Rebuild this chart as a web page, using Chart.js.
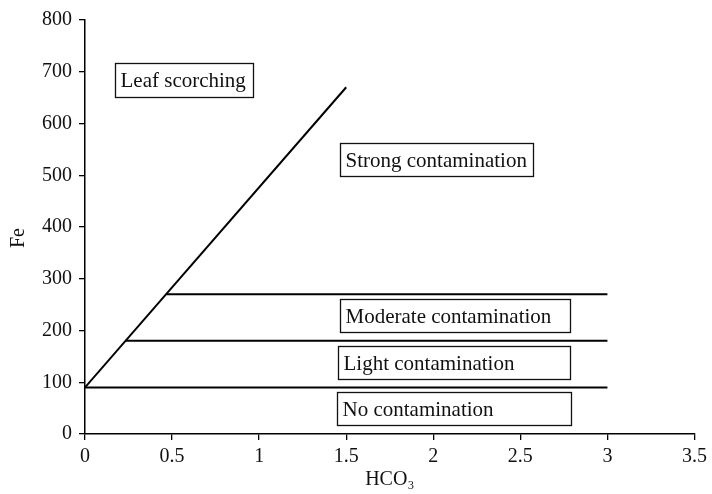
<!DOCTYPE html>
<html>
<head>
<meta charset="utf-8">
<script src="https://cdn.jsdelivr.net/npm/chart.js@4.4.1/dist/chart.umd.min.js"></script>
<style>
  html, body { margin: 0; padding: 0; background: #fff; }
  #wrap { width: 712px; height: 494px; }
</style>
</head>
<body>
<div id="wrap"><canvas id="c" width="712" height="494"></canvas></div>
<script>
// Boundary between leaf scorching and contamination (HCO3 vs Fe)
const scorchX = [0, 1.5];
const scorchY = [90, 670];

// Contamination thresholds: Fe level, HCO3 where it meets the boundary, HCO3 end
const levelFe    = [90, 180, 270];
const levelStart = [0, 0.23, 0.47];
const levelEnd   = [3, 3, 3];

// Axis tick values and their printed labels
const xTickValues = [0, 0.5, 1, 1.5, 2, 2.5, 3, 3.5];
const xTickLabels = ['0', '0.5', '1', '1.5', '2', '2.5', '3', '3.5'];
const yTickLabels = ['0', '100', '200', '300', '400', '500', '600', '700', '800'];

// Zone labels and their boxes in data units: [x0, x1, yTop, yBottom]
const zoneNames = ['Leaf scorching', 'Strong contamination', 'Moderate contamination', 'Light contamination', 'No contamination'];
const zoneBoxes = [
  [0.175, 0.966, 717, 651],
  [1.462, 2.570, 563, 499],
  [1.462, 2.784, 260, 197],
  [1.454, 2.784, 171, 107],
  [1.446, 2.793, 82, 17]
];

const SERIF = '"Liberation Serif", "Times New Roman", serif';

const datasets = [{
  data: scorchX.map((x, i) => ({ x, y: scorchY[i] })),
}].concat(levelFe.map((fe, i) => ({
  data: [{ x: levelStart[i], y: fe }, { x: levelEnd[i], y: fe }]
}))).map(d => Object.assign(d, {
  showLine: true,
  borderColor: '#000',
  borderWidth: 2,
  pointRadius: 0,
  fill: false
}));

// Draws the boxed zone labels in data coordinates, plus the vertical "Fe" axis name
const zoneLabels = {
  id: 'zoneLabels',
  afterDatasetsDraw(chart) {
    const { ctx, chartArea, scales: { x, y } } = chart;
    ctx.save();
    ctx.font = '21px ' + SERIF;
    ctx.textBaseline = 'middle';
    ctx.textAlign = 'left';
    zoneBoxes.forEach((b, i) => {
      const l = Math.round(x.getPixelForValue(b[0])) + 0.5;
      const r = Math.round(x.getPixelForValue(b[1])) + 0.5;
      const t = Math.round(y.getPixelForValue(b[2])) + 0.5;
      const bt = Math.round(y.getPixelForValue(b[3])) + 0.5;
      ctx.fillStyle = '#fff';
      ctx.fillRect(l, t, r - l, bt - t);
      ctx.strokeStyle = '#111';
      ctx.lineWidth = 1.3;
      ctx.strokeRect(l, t, r - l, bt - t);
      ctx.fillStyle = '#111';
      ctx.fillText(zoneNames[i], l + 5, (t + bt) / 2 + 1);
    });
    ctx.restore();

    // y-axis name, sitting a little below the middle of the axis
    ctx.save();
    ctx.font = '20px ' + SERIF;
    ctx.fillStyle = '#111';
    ctx.textAlign = 'center';
    ctx.textBaseline = 'middle';
    ctx.translate(19, (chartArea.top + chartArea.bottom) / 2 + 11);
    ctx.rotate(-Math.PI / 2);
    ctx.fillText('Fe', 0, 0);
    ctx.restore();
  }
};

new Chart(document.getElementById('c'), {
  type: 'scatter',
  data: { datasets },
  plugins: [zoneLabels],
  options: {
    responsive: false,
    animation: false,
    layout: { padding: { left: 0, right: 13, top: 20, bottom: 0 } },
    plugins: { legend: { display: false }, tooltip: { enabled: false } },
    scales: {
      x: {
        type: 'linear',
        min: 0, max: 3.5,
        afterFit(s) { s.height = 60; },
        afterBuildTicks(s) { s.ticks = xTickValues.map(v => ({ value: v })); },
        ticks: {
          color: '#111', padding: 5, maxRotation: 0, autoSkip: false,
          font: { family: SERIF, size: 20 },
          callback: (v) => xTickLabels[xTickValues.indexOf(v)]
        },
        grid: { display: true, drawOnChartArea: false, color: '#000', tickLength: 6, lineWidth: 1.3 },
        border: { color: '#000', width: 1.5 },
        title: { display: true, text: 'HCO₃', color: '#111', padding: { top: 0, bottom: 2 }, font: { family: SERIF, size: 20 } }
      },
      y: {
        type: 'linear',
        min: 0, max: 800,
        afterFit(s) { s.width = 85; },
        ticks: {
          stepSize: 100, color: '#111', padding: 7,
          font: { family: SERIF, size: 20 },
          callback: (v) => yTickLabels[Math.round(v / 100)]
        },
        grid: { display: true, drawOnChartArea: false, color: '#000', tickLength: 6, lineWidth: 1.3 },
        border: { color: '#000', width: 1.5 },
        title: { display: false }
      }
    }
  }
});
</script>
</body>
</html>
